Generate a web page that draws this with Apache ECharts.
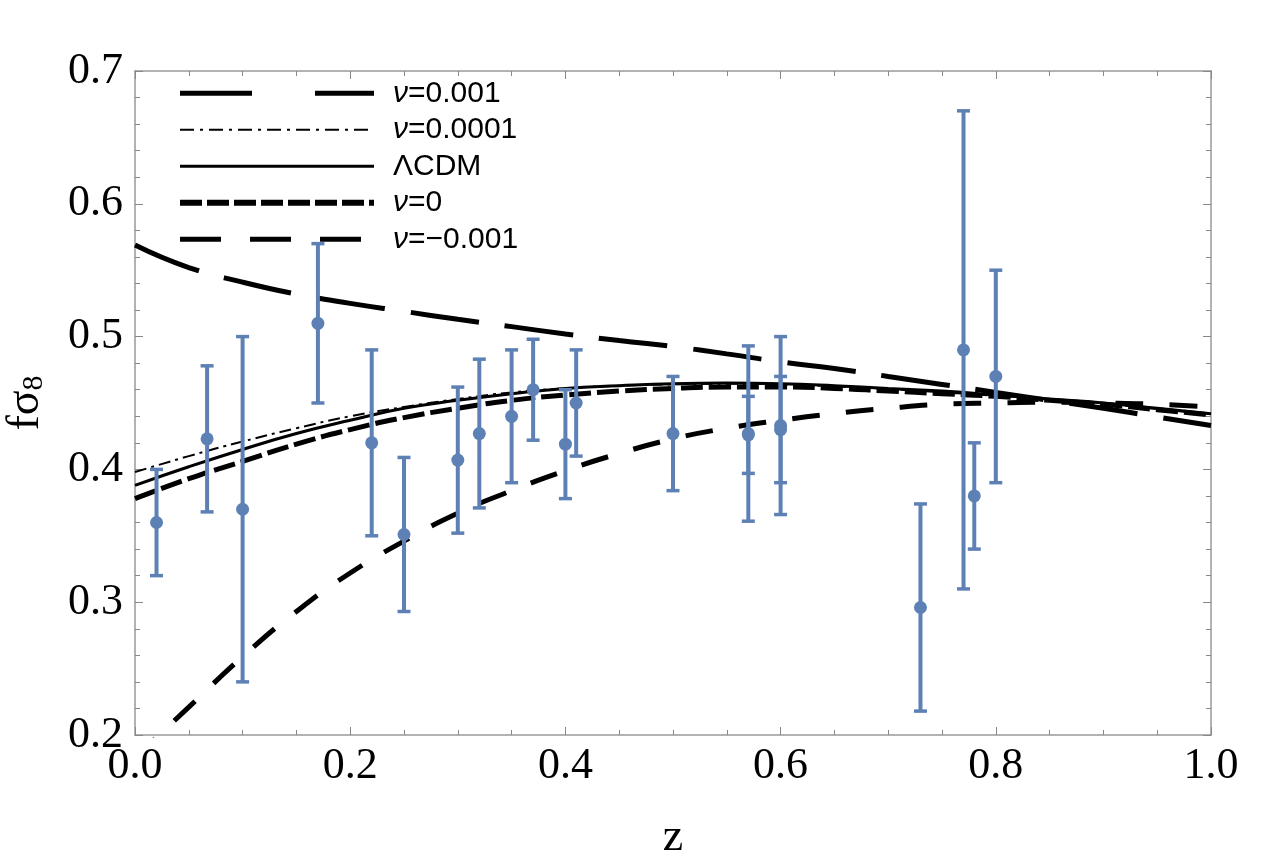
<!DOCTYPE html>
<html>
<head>
<meta charset="utf-8">
<script src="https://cdn.jsdelivr.net/npm/echarts@6/dist/echarts.min.js"></script>
<style>
html,body{margin:0;padding:0;background:#fff;}
#chart{width:1282px;height:867px;}
</style>
</head>
<body>
<div id="chart"></div>
<script>
// ---- data points (z, f*sigma8, error) ----
const zData   = [0.02, 0.067, 0.10, 0.17, 0.22, 0.25, 0.30, 0.32, 0.35, 0.37, 0.40, 0.41, 0.50, 0.57, 0.57, 0.60, 0.60, 0.73, 0.77, 0.78, 0.80];
const fsData  = [0.360, 0.423, 0.370, 0.510, 0.420, 0.351, 0.407, 0.427, 0.440, 0.460, 0.419, 0.450, 0.427, 0.427, 0.426, 0.433, 0.430, 0.296, 0.490, 0.380, 0.470];
const errData = [0.040, 0.055, 0.130, 0.060, 0.070, 0.058, 0.055, 0.056, 0.050, 0.038, 0.041, 0.040, 0.043, 0.066, 0.029, 0.067, 0.040, 0.078, 0.180, 0.040, 0.080];

// ---- model curves, sampled on zGrid ----
const zGrid = [0.00, 0.05, 0.10, 0.15, 0.20, 0.25, 0.30, 0.35, 0.40, 0.45, 0.50, 0.55, 0.60, 0.65, 0.70, 0.75, 0.80, 0.85, 0.90, 0.95, 1.00];
const nuP001   = [0.569, 0.552, 0.541, 0.532, 0.525, 0.519, 0.513, 0.5075, 0.502, 0.497, 0.4925, 0.487, 0.481, 0.476, 0.470, 0.464, 0.458, 0.452, 0.446, 0.4395, 0.433];
const nuP0001  = [0.398, 0.410, 0.421, 0.431, 0.440, 0.447, 0.453, 0.458, 0.461, 0.463, 0.464, 0.4645, 0.464, 0.4625, 0.4605, 0.458, 0.4555, 0.4525, 0.4495, 0.4455, 0.4415];
const lcdm     = [0.388, 0.402, 0.415, 0.427, 0.437, 0.446, 0.452, 0.457, 0.461, 0.463, 0.4645, 0.465, 0.4645, 0.463, 0.461, 0.459, 0.456, 0.453, 0.450, 0.446, 0.442];
const nuZero   = [0.378, 0.393, 0.406, 0.419, 0.430, 0.439, 0.446, 0.452, 0.456, 0.459, 0.461, 0.462, 0.462, 0.461, 0.459, 0.457, 0.455, 0.452, 0.449, 0.445, 0.441];
const nuM001   = [0.183, 0.221, 0.259, 0.293, 0.322, 0.346, 0.367, 0.384, 0.399, 0.412, 0.423, 0.431, 0.437, 0.442, 0.446, 0.449, 0.450, 0.4505, 0.450, 0.449, 0.447];

const seriesNames = ['ν=0.001', 'ν=0.0001', 'ΛCDM', 'ν=0', 'ν=−0.001'];
const xTicks = [0.0, 0.2, 0.4, 0.6, 0.8, 1.0];
const yTicks = [0.2, 0.3, 0.4, 0.5, 0.6, 0.7];

const pairs = (ys) => zGrid.map((z, i) => [z, ys[i]]);
const errPoints = zData.map((z, i) => [z, fsData[i], errData[i]]);

const BLUE = '#5E81B5';
const FRAME = '#9a9a9a';
const serif = 'Liberation Serif';
const sans = 'Liberation Sans';

const chart = echarts.init(document.getElementById('chart'), null, {renderer: 'canvas'});

const frameAxisCommon = {
  type: 'value', min: xTicks[0], max: xTicks[xTicks.length - 1], interval: 0.2,
  axisLine: {show: true, onZero: false, lineStyle: {color: FRAME, width: 1.5}},
  axisTick: {show: true, inside: true, length: 8, lineStyle: {color: '#888', width: 1}},
  minorTick: {show: true, splitNumber: 4, length: 5, lineStyle: {color: '#888', width: 1}},
  splitLine: {show: false}, minorSplitLine: {show: false}
};
const yFrameCommon = {
  type: 'value', min: yTicks[0], max: yTicks[yTicks.length - 1], interval: 0.1,
  axisLine: {show: true, onZero: false, lineStyle: {color: FRAME, width: 1.5}},
  axisTick: {show: true, inside: true, length: 8, lineStyle: {color: '#888', width: 1}},
  minorTick: {show: true, splitNumber: 5, length: 5, lineStyle: {color: '#888', width: 1}},
  splitLine: {show: false}, minorSplitLine: {show: false}
};

const hiddenSym = {color: 'rgba(0,0,0,0)', borderWidth: 0, opacity: 0};

const option = {
  backgroundColor: '#fff',
  animation: false,
  grid: {left: 135, top: 71, width: 1076, height: 664, containLabel: false, outerBoundsMode: 'none'},
  legend: {
    show: true, orient: 'vertical', left: 177, top: 75, padding: 0,
    itemWidth: 194, itemHeight: 20, itemGap: 0, selectedMode: false,
    textStyle: {fontFamily: sans, fontSize: 30, color: '#000', lineHeight: 36.5, padding: [0, 0, 0, 14],
      rich: {
        i: {fontFamily: sans, fontSize: 30, fontStyle: 'italic', color: '#000', lineHeight: 36.5},
        n: {fontFamily: sans, fontSize: 30, color: '#000', lineHeight: 36.5}
      }},
    formatter: function (name) {
      if (name.charAt(0) === 'ν') return '{i|ν}{n|' + name.slice(1) + '}';
      return '{n|' + name + '}';
    },
    data: [
      {name: seriesNames[0], itemStyle: hiddenSym, lineStyle: {width: 5, type: [72, 63], color: '#000', opacity: 1}},
      {name: seriesNames[1], itemStyle: hiddenSym, lineStyle: {width: 2, type: [14, 6, 3, 6], color: '#000', opacity: 1}},
      {name: seriesNames[2], itemStyle: hiddenSym, lineStyle: {width: 3, type: 'solid', color: '#000', opacity: 1}},
      {name: seriesNames[3], itemStyle: hiddenSym, lineStyle: {width: 6, type: [22, 5], color: '#000', opacity: 1}},
      {name: seriesNames[4], itemStyle: hiddenSym, lineStyle: {width: 5, type: [41, 29], color: '#000', opacity: 1}}
    ]
  },
  xAxis: [
    Object.assign({}, frameAxisCommon, {
      position: 'bottom',
      axisLabel: {show: true, showMinLabel: true, showMaxLabel: true, fontFamily: serif, fontSize: 44, color: '#000', margin: 9,
        formatter: (v) => v.toFixed(1)},
      name: 'z', nameLocation: 'middle', nameGap: 80,
      nameTextStyle: {fontFamily: serif, fontSize: 46, color: '#000'}
    }),
    Object.assign({}, frameAxisCommon, {position: 'top', axisLabel: {show: false}})
  ],
  yAxis: [
    Object.assign({}, yFrameCommon, {
      position: 'left',
      axisLabel: {show: true, showMinLabel: true, showMaxLabel: true, fontFamily: serif, fontSize: 44, color: '#000', margin: 12,
        formatter: (v) => v.toFixed(1)},
      name: 'fσ{sub|8}', nameLocation: 'middle', nameGap: 86, nameRotate: 90,
      nameTextStyle: {fontFamily: serif, fontSize: 46, color: '#000',
        rich: {sub: {fontFamily: serif, fontSize: 30, color: '#000', verticalAlign: 'bottom', lineHeight: 24}}}
    }),
    Object.assign({}, yFrameCommon, {position: 'right', axisLabel: {show: false}})
  ],
  series: [
    {name: seriesNames[0], type: 'line', data: pairs(nuP001), smooth: true, showSymbol: false, symbol: 'none',
      lineStyle: {color: '#000', width: 5, type: [69, 26]}, itemStyle: {color: '#000'}, z: 2, clip: true},
    {name: seriesNames[1], type: 'line', data: pairs(nuP0001), smooth: true, showSymbol: false, symbol: 'none',
      lineStyle: {color: '#000', width: 2, type: [12, 5, 3, 5]}, itemStyle: {color: '#000'}, z: 2, clip: true},
    {name: seriesNames[2], type: 'line', data: pairs(lcdm), smooth: true, showSymbol: false, symbol: 'none',
      lineStyle: {color: '#000', width: 3, type: 'solid'}, itemStyle: {color: '#000'}, z: 2, clip: true},
    {name: seriesNames[3], type: 'line', data: pairs(nuZero), smooth: true, showSymbol: false, symbol: 'none',
      lineStyle: {color: '#000', width: 5, type: [22, 6]}, itemStyle: {color: '#000'}, z: 2, clip: true},
    {name: seriesNames[4], type: 'line', data: pairs(nuM001), smooth: true, showSymbol: false, symbol: 'none',
      lineStyle: {color: '#000', width: 5, type: [28, 26]}, itemStyle: {color: '#000'}, z: 2, clip: true},
    {
      name: 'data', type: 'custom', z: 5, data: errPoints,
      renderItem: function (params, api) {
        const z = api.value(0), y = api.value(1), e = api.value(2);
        const top = api.coord([z, y + e]);
        const bot = api.coord([z, y - e]);
        const c = api.coord([z, y]);
        const hw = 6.5;
        return {
          type: 'group',
          children: [
            {type: 'line', shape: {x1: c[0], y1: top[1], x2: c[0], y2: bot[1]}, style: {stroke: BLUE, lineWidth: 4}},
            {type: 'line', shape: {x1: c[0] - hw, y1: top[1], x2: c[0] + hw, y2: top[1]}, style: {stroke: BLUE, lineWidth: 3.5}},
            {type: 'line', shape: {x1: c[0] - hw, y1: bot[1], x2: c[0] + hw, y2: bot[1]}, style: {stroke: BLUE, lineWidth: 3.5}},
            {type: 'circle', shape: {cx: c[0], cy: c[1], r: 6.5}, style: {fill: BLUE}}
          ]
        };
      }
    }
  ]
};
chart.setOption(option);
</script>
</body>
</html>
